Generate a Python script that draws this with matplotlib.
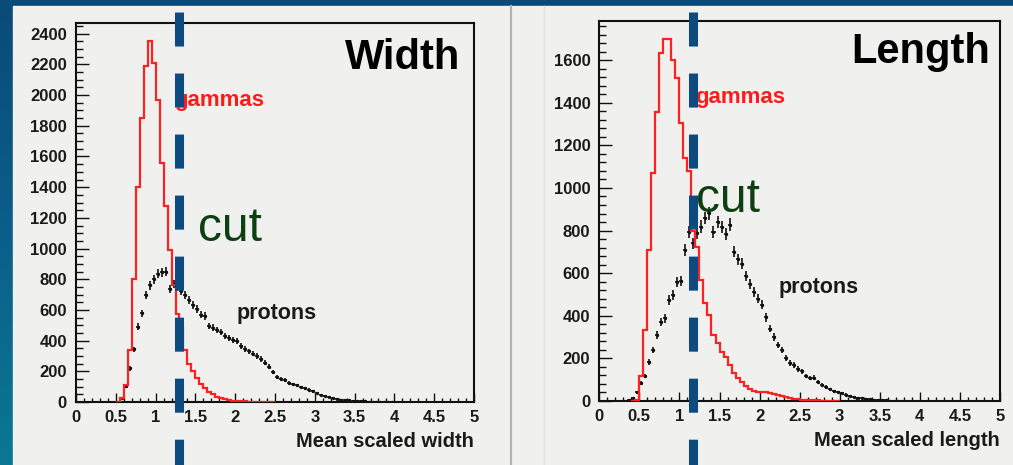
import numpy as np
import matplotlib.pyplot as plt
from matplotlib.colors import LinearSegmentedColormap
from matplotlib.patches import Rectangle
from matplotlib.ticker import MultipleLocator

plt.rcParams['font.family'] = ['Liberation Sans', 'DejaVu Sans']

bin_width = 0.05

# ---- Mean scaled width (left) ----
width_gamma_start = 0.50
width_gammas = [3, 25, 110, 340, 800, 1400, 1850, 2190, 2350, 2210,
                1970, 1560, 1280, 990, 760, 575, 480, 340, 250, 200,
                155, 120, 90, 65, 50, 35, 25, 18, 12, 8,
                6, 5, 4, 3, 3, 2, 2, 1, 1, 1]
width_proton_start = 0.50
width_protons = [3, 24, 103, 219, 343, 490, 577, 700, 760, 800,
                 835, 845, 848, 735, 770, 750, 724, 700, 665, 630,
                 605, 570, 560, 495, 485, 470, 455, 430, 415, 405,
                 395, 365, 345, 330, 315, 300, 280, 255, 230, 195,
                 165, 152, 143, 125, 115, 108, 96, 89, 80, 70,
                 58, 47, 38, 30, 24, 19, 15, 12, 10, 8,
                 6, 5, 4, 3, 3, 2, 2, 1, 1, 1]
width_cut = 1.30

# ---- Mean scaled length (right) ----
length_gamma_start = 0.40
length_gammas = [2, 5, 115, 335, 710, 1070, 1355, 1635, 1700, 1700,
                 1600, 1515, 1305, 1140, 1080, 800, 725, 570, 460, 405,
                 310, 270, 230, 208, 170, 130, 108, 88, 72, 58,
                 48, 44, 42, 40, 36, 32, 28, 24, 18, 14,
                 11, 8, 6, 5, 4, 3, 3, 2, 2, 1, 1, 1]
length_proton_start = 0.35
length_protons = [3, 12, 40, 83, 118, 182, 240, 310, 370, 388,
                  474, 498, 560, 565, 709, 792, 740, 790, 819, 860,
                  881, 795, 840, 815, 785, 828, 700, 665, 645, 588,
                  548, 513, 480, 452, 392, 340, 300, 263, 240, 200,
                  180, 170, 150, 140, 118, 108, 110, 88, 76, 65,
                  55, 46, 42, 38, 30, 25, 20, 16, 13, 10,
                  8, 6, 5, 4, 3, 2, 2, 1, 1]
length_cut = 1.175

x_ticks = [0, 0.5, 1, 1.5, 2, 2.5, 3, 3.5, 4, 4.5, 5]
x_tick_labels = ['0', '0.5', '1', '1.5', '2', '2.5', '3', '3.5', '4', '4.5', '5']
width_y_ticks = list(range(0, 2401, 200))
length_y_ticks = list(range(0, 1601, 200))

W, H = 1013, 465
fig = plt.figure(figsize=(W / 100, H / 100), dpi=100)
fig.patch.set_facecolor('#0b4b7a')

# blue background + light page
bg = fig.add_axes([0, 0, 1, 1], zorder=-10)
cmap = LinearSegmentedColormap.from_list('bg', ['#0a4a79', '#0b5f8a', '#0a7893'])
bg.imshow(np.linspace(0, 1, 256).reshape(-1, 1), aspect='auto', cmap=cmap,
          extent=[0, 1, 0, 1], origin='upper')
bg.add_patch(Rectangle((13 / W, 0), 1, 1 - 6 / H, color='#f0f1ef'))
bg.plot([510.5 / W] * 2, [0, 1 - 6 / H], color='#b2b2b2', lw=1.5)
bg.plot([543.5 / W] * 2, [0, 1 - 6 / H], color='#e2e3e1', lw=1.0)
bg.set_xlim(0, 1)
bg.set_ylim(0, 1)
bg.axis('off')


def draw_panel(rect, g_start, gammas, p_start, protons, ymax, y_ticks, y_minor,
               cut, title, title_xy, gam_xy, prot_xy, cut_xy, xlabel):
    ax = fig.add_axes(rect)
    ax.set_facecolor('none')

    edges = g_start + bin_width * np.arange(len(gammas) + 1)
    ax.stairs(gammas, edges, color='#ff2020', lw=1.6, baseline=0, zorder=4)

    p = np.array(protons, dtype=float)
    centers = p_start + bin_width * (np.arange(len(p)) + 0.5)
    ax.errorbar(centers, p, xerr=bin_width / 2, yerr=np.sqrt(p), fmt='.',
                ms=2.8, color='#111111', elinewidth=1.2, capsize=0, zorder=3)

    ax.set_xlim(0, 5)
    ax.set_ylim(0, ymax)
    ax.set_xticks(x_ticks, labels=x_tick_labels)
    ax.set_yticks(y_ticks, labels=[str(v) for v in y_ticks])
    ax.xaxis.set_minor_locator(MultipleLocator(0.1))
    ax.yaxis.set_minor_locator(MultipleLocator(y_minor))
    ax.tick_params(which='both', direction='in', top=False, right=False,
                   width=1.0, color='#111111')
    ax.tick_params(axis='y', which='major', length=9.4, pad=6.5)
    ax.tick_params(axis='y', which='minor', length=5)
    ax.tick_params(axis='x', which='major', length=6.5, pad=5.5)
    ax.tick_params(axis='x', which='minor', length=3.2)
    for lab in ax.get_xticklabels() + ax.get_yticklabels():
        lab.set_fontweight('bold')
        lab.set_fontsize(12)
        lab.set_color('#1a1a1a')
    for s in ax.spines.values():
        s.set_linewidth(1.5)
        s.set_color('#111111')

    ax.text(title_xy[0], title_xy[1], title, transform=ax.transAxes,
            ha='right', va='baseline', fontsize=30, fontweight='bold', color='black')
    ax.text(gam_xy[0], gam_xy[1], 'gammas', transform=ax.transAxes,
            ha='left', va='baseline', fontsize=16, fontweight='bold', color='#ff1a1a')
    ax.text(prot_xy[0], prot_xy[1], 'protons', transform=ax.transAxes,
            ha='left', va='baseline', fontsize=15.5, fontweight='bold', color='#1a1a1a')
    ax.text(cut_xy[0], cut_xy[1], 'cut', transform=ax.transAxes,
            ha='left', va='baseline', fontsize=34.5, color='#0e3f12', zorder=6)
    ax.text(1.0, -0.119, xlabel, transform=ax.transAxes,
            ha='right', va='baseline', fontsize=14.5, fontweight='bold', color='#1a1a1a')

    # dashed cut line, starts 11.7 px below the top of the figure and runs off the bottom
    top = ((1 - 11.7 / H) - rect[1]) / rect[3]
    bottom = -rect[1] / rect[3] - 0.03
    ax.plot([cut, cut], [top, bottom], transform=ax.get_xaxis_transform(),
            clip_on=False, color='#0c4a80', lw=6.5,
            linestyle=(0, (3.77, 2.99)), dash_capstyle='butt', zorder=10)
    return ax


draw_panel([76 / W, 1 - 402 / H, 398 / W, 379 / H],
           width_gamma_start, width_gammas, width_proton_start, width_protons,
           2470, width_y_ticks, 50, width_cut, 'Width',
           (0.965, 0.879), (0.246, 0.781), (0.403, 0.219), (0.3065, 0.425),
           'Mean scaled width')

draw_panel([599.3 / W, 1 - 401 / H, 400.7 / W, 380.3 / H],
           length_gamma_start, length_gammas, length_proton_start, length_protons,
           1785, length_y_ticks, 40, length_cut, 'Length',
           (0.975, 0.888), (0.239, 0.783), (0.447, 0.283), (0.241, 0.497),
           'Mean scaled length')

fig.savefig('out.png', dpi=100, facecolor=fig.get_facecolor())
